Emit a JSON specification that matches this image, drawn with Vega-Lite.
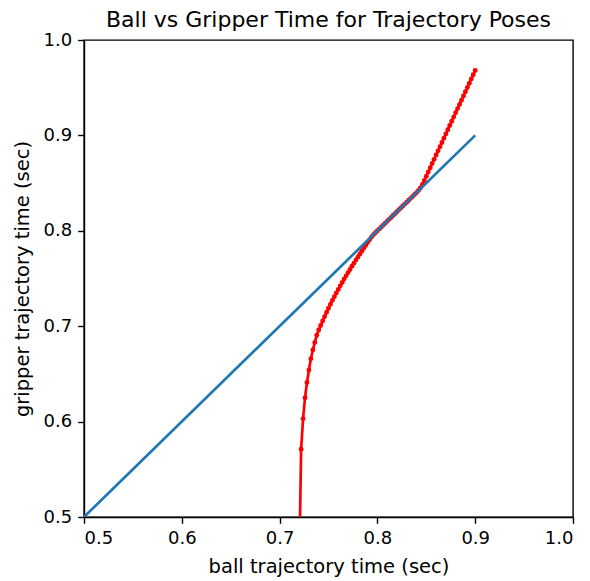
{
  "$schema": "https://vega.github.io/schema/vega-lite/v6.json",
  "autosize": {"type": "none"},
  "padding": {"left": 84, "top": 40, "right": 17, "bottom": 64},
  "width": 489,
  "height": 477,
  "background": "white",
  "config": {
    "font": "DejaVu Sans",
    "view": {"stroke": "black", "strokeWidth": 1.4},
    "axis": {
      "grid": false,
      "domainColor": "black",
      "domainWidth": 1.4,
      "tickColor": "black",
      "tickWidth": 1.4,
      "tickSize": 6.3,
      "labelColor": "black",
      "labelFontSize": 18,
      "labelFont": "DejaVu Sans",
      "titleFont": "DejaVu Sans",
      "titleFontSize": 19.5,
      "titleFontWeight": "normal",
      "titleColor": "black",
      "labelPadding": 6
    }
  },
  "title": {
    "text": "Ball vs Gripper Time for Trajectory Poses",
    "fontSize": 22,
    "fontWeight": "normal",
    "font": "DejaVu Sans",
    "color": "black",
    "offset": -1
  },
  "data": {
    "values": [
      {"series": "identity", "ball_time": 0.5, "gripper_time": 0.5},
      {"series": "identity", "ball_time": 0.9, "gripper_time": 0.9},
      {"series": "poses", "ball_time": 0.720, "gripper_time": 0.440},
      {"series": "poses", "ball_time": 0.722, "gripper_time": 0.571},
      {"series": "poses", "ball_time": 0.724, "gripper_time": 0.603},
      {"series": "poses", "ball_time": 0.726, "gripper_time": 0.625},
      {"series": "poses", "ball_time": 0.728, "gripper_time": 0.641},
      {"series": "poses", "ball_time": 0.730, "gripper_time": 0.654},
      {"series": "poses", "ball_time": 0.732, "gripper_time": 0.666},
      {"series": "poses", "ball_time": 0.734, "gripper_time": 0.675},
      {"series": "poses", "ball_time": 0.736, "gripper_time": 0.683},
      {"series": "poses", "ball_time": 0.738, "gripper_time": 0.6905},
      {"series": "poses", "ball_time": 0.740, "gripper_time": 0.6960},
      {"series": "poses", "ball_time": 0.742, "gripper_time": 0.7008},
      {"series": "poses", "ball_time": 0.744, "gripper_time": 0.7055},
      {"series": "poses", "ball_time": 0.746, "gripper_time": 0.7100},
      {"series": "poses", "ball_time": 0.748, "gripper_time": 0.7145},
      {"series": "poses", "ball_time": 0.750, "gripper_time": 0.7188},
      {"series": "poses", "ball_time": 0.752, "gripper_time": 0.7230},
      {"series": "poses", "ball_time": 0.754, "gripper_time": 0.7271},
      {"series": "poses", "ball_time": 0.756, "gripper_time": 0.7310},
      {"series": "poses", "ball_time": 0.758, "gripper_time": 0.7349},
      {"series": "poses", "ball_time": 0.760, "gripper_time": 0.7386},
      {"series": "poses", "ball_time": 0.762, "gripper_time": 0.7423},
      {"series": "poses", "ball_time": 0.764, "gripper_time": 0.7459},
      {"series": "poses", "ball_time": 0.766, "gripper_time": 0.7494},
      {"series": "poses", "ball_time": 0.768, "gripper_time": 0.7528},
      {"series": "poses", "ball_time": 0.770, "gripper_time": 0.7562},
      {"series": "poses", "ball_time": 0.772, "gripper_time": 0.7595},
      {"series": "poses", "ball_time": 0.774, "gripper_time": 0.7628},
      {"series": "poses", "ball_time": 0.776, "gripper_time": 0.7661},
      {"series": "poses", "ball_time": 0.778, "gripper_time": 0.7693},
      {"series": "poses", "ball_time": 0.780, "gripper_time": 0.7724},
      {"series": "poses", "ball_time": 0.782, "gripper_time": 0.7755},
      {"series": "poses", "ball_time": 0.784, "gripper_time": 0.7786},
      {"series": "poses", "ball_time": 0.786, "gripper_time": 0.7817},
      {"series": "poses", "ball_time": 0.788, "gripper_time": 0.7847},
      {"series": "poses", "ball_time": 0.790, "gripper_time": 0.7877},
      {"series": "poses", "ball_time": 0.792, "gripper_time": 0.7906},
      {"series": "poses", "ball_time": 0.794, "gripper_time": 0.7935},
      {"series": "poses", "ball_time": 0.796, "gripper_time": 0.7958},
      {"series": "poses", "ball_time": 0.798, "gripper_time": 0.7979},
      {"series": "poses", "ball_time": 0.800, "gripper_time": 0.8000},
      {"series": "poses", "ball_time": 0.802, "gripper_time": 0.8020},
      {"series": "poses", "ball_time": 0.804, "gripper_time": 0.8040},
      {"series": "poses", "ball_time": 0.806, "gripper_time": 0.8060},
      {"series": "poses", "ball_time": 0.808, "gripper_time": 0.8080},
      {"series": "poses", "ball_time": 0.810, "gripper_time": 0.8100},
      {"series": "poses", "ball_time": 0.812, "gripper_time": 0.8120},
      {"series": "poses", "ball_time": 0.814, "gripper_time": 0.8140},
      {"series": "poses", "ball_time": 0.816, "gripper_time": 0.8160},
      {"series": "poses", "ball_time": 0.818, "gripper_time": 0.8180},
      {"series": "poses", "ball_time": 0.820, "gripper_time": 0.8200},
      {"series": "poses", "ball_time": 0.822, "gripper_time": 0.8220},
      {"series": "poses", "ball_time": 0.824, "gripper_time": 0.8240},
      {"series": "poses", "ball_time": 0.826, "gripper_time": 0.8260},
      {"series": "poses", "ball_time": 0.828, "gripper_time": 0.8280},
      {"series": "poses", "ball_time": 0.830, "gripper_time": 0.8300},
      {"series": "poses", "ball_time": 0.832, "gripper_time": 0.8320},
      {"series": "poses", "ball_time": 0.834, "gripper_time": 0.8340},
      {"series": "poses", "ball_time": 0.836, "gripper_time": 0.8360},
      {"series": "poses", "ball_time": 0.838, "gripper_time": 0.8380},
      {"series": "poses", "ball_time": 0.840, "gripper_time": 0.8400},
      {"series": "poses", "ball_time": 0.842, "gripper_time": 0.8422},
      {"series": "poses", "ball_time": 0.844, "gripper_time": 0.8448},
      {"series": "poses", "ball_time": 0.846, "gripper_time": 0.8485},
      {"series": "poses", "ball_time": 0.848, "gripper_time": 0.8528},
      {"series": "poses", "ball_time": 0.850, "gripper_time": 0.8572},
      {"series": "poses", "ball_time": 0.852, "gripper_time": 0.8616},
      {"series": "poses", "ball_time": 0.854, "gripper_time": 0.8661},
      {"series": "poses", "ball_time": 0.856, "gripper_time": 0.8705},
      {"series": "poses", "ball_time": 0.858, "gripper_time": 0.8749},
      {"series": "poses", "ball_time": 0.860, "gripper_time": 0.8794},
      {"series": "poses", "ball_time": 0.862, "gripper_time": 0.8838},
      {"series": "poses", "ball_time": 0.864, "gripper_time": 0.8882},
      {"series": "poses", "ball_time": 0.866, "gripper_time": 0.8926},
      {"series": "poses", "ball_time": 0.868, "gripper_time": 0.8971},
      {"series": "poses", "ball_time": 0.870, "gripper_time": 0.9015},
      {"series": "poses", "ball_time": 0.872, "gripper_time": 0.9059},
      {"series": "poses", "ball_time": 0.874, "gripper_time": 0.9104},
      {"series": "poses", "ball_time": 0.876, "gripper_time": 0.9148},
      {"series": "poses", "ball_time": 0.878, "gripper_time": 0.9192},
      {"series": "poses", "ball_time": 0.880, "gripper_time": 0.9237},
      {"series": "poses", "ball_time": 0.882, "gripper_time": 0.9281},
      {"series": "poses", "ball_time": 0.884, "gripper_time": 0.9325},
      {"series": "poses", "ball_time": 0.886, "gripper_time": 0.9369},
      {"series": "poses", "ball_time": 0.888, "gripper_time": 0.9414},
      {"series": "poses", "ball_time": 0.890, "gripper_time": 0.9458},
      {"series": "poses", "ball_time": 0.892, "gripper_time": 0.9502},
      {"series": "poses", "ball_time": 0.894, "gripper_time": 0.9547},
      {"series": "poses", "ball_time": 0.896, "gripper_time": 0.9591},
      {"series": "poses", "ball_time": 0.898, "gripper_time": 0.9635},
      {"series": "poses", "ball_time": 0.900, "gripper_time": 0.9680}
    ]
  },
  "encoding": {
    "x": {
      "field": "ball_time",
      "type": "quantitative",
      "scale": {"domain": [0.5, 1.0], "nice": false, "zero": false},
      "axis": {"values": [0.5, 0.6, 0.7, 0.8, 0.9, 1.0], "format": ".1f", "title": "ball trajectory time (sec)", "titlePadding": 10}
    },
    "y": {
      "field": "gripper_time",
      "type": "quantitative",
      "scale": {"domain": [0.5, 1.0], "nice": false, "zero": false},
      "axis": {"values": [0.5, 0.6, 0.7, 0.8, 0.9, 1.0], "format": ".1f", "title": "gripper trajectory time (sec)", "titlePadding": 11}
    },
    "order": {"field": "ball_time", "type": "quantitative"}
  },
  "layer": [
    {
      "transform": [{"filter": "datum.series === 'poses'"}],
      "mark": {"type": "line", "color": "#ff0000", "strokeWidth": 2.7, "clip": true}
    },
    {
      "transform": [{"filter": "datum.series === 'poses'"}],
      "mark": {"type": "point", "filled": true, "color": "#ff0000", "size": 24, "opacity": 1, "clip": true}
    },
    {
      "transform": [{"filter": "datum.series === 'identity'"}],
      "mark": {"type": "line", "color": "#1f77b4", "strokeWidth": 2.7, "clip": true}
    }
  ]
}
